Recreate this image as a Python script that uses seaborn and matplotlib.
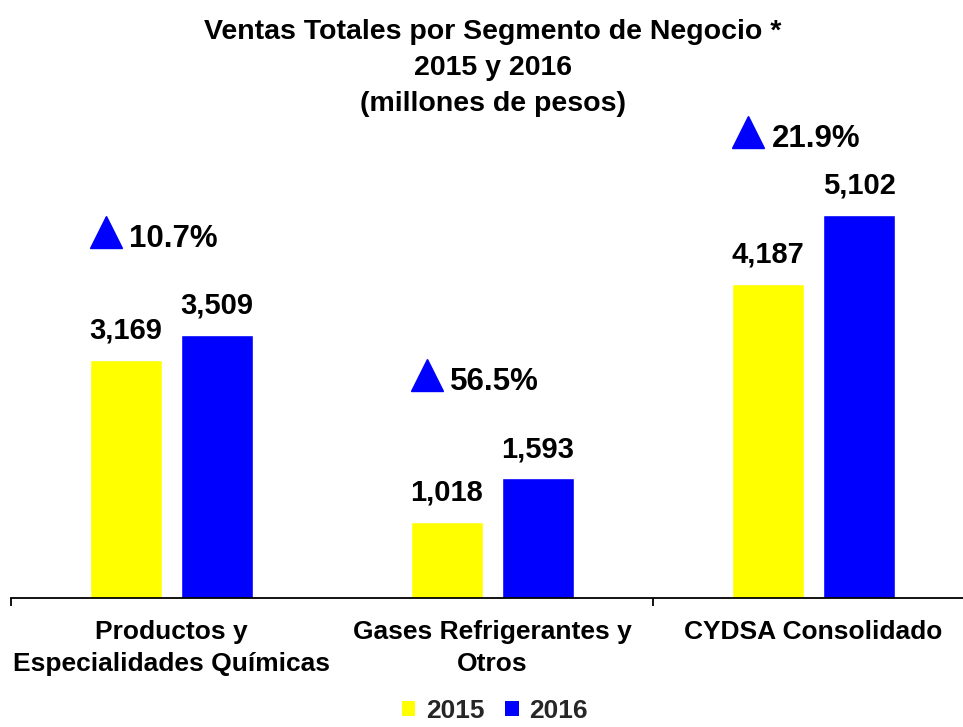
import matplotlib
matplotlib.use("Agg")
import matplotlib.pyplot as plt
from matplotlib.patches import Patch
from matplotlib.transforms import offset_copy
import seaborn as sns
import pandas as pd

# data
segments = ["Productos y\nEspecialidades Químicas", "Gases Refrigerantes y\nOtros", "CYDSA Consolidado"]
years = ["2015", "2016"]
sales_2015 = [3169, 1018, 4187]
sales_2016 = [3509, 1593, 5102]
growth_pct = ["10.7%", "56.5%", "21.9%"]

colors = {"2015": "#FFFF00", "2016": "#0000FF"}

sns.set_theme(style="white")
plt.rcParams["font.family"] = ["Liberation Sans", "DejaVu Sans"]
plt.rcParams["font.weight"] = "bold"

df = pd.DataFrame({
    "Segmento": segments * 2,
    "Año": [years[0]] * 3 + [years[1]] * 3,
    "Ventas": sales_2015 + sales_2016,
})

fig = plt.figure(figsize=(9.63, 7.27), dpi=100)
ax = fig.add_axes([11 / 963, 129 / 727, 952 / 963, 498 / 727])

sns.barplot(data=df, x="Segmento", y="Ventas", hue="Año", palette=colors,
            width=0.568, gap=0.21, ax=ax, legend=False, saturation=1, errorbar=None)

ax.set_xlim(-0.5, 2.466)
ax.set_ylim(0, 6634)

# value labels
for cont in ax.containers:
    ax.bar_label(cont, labels=[f"{v:,.0f}" for v in cont.datavalues],
                 padding=11, fontsize=21, fontweight="bold", color="black")

# growth markers above each group
for i, (v, pct) in enumerate(zip(sales_2016, growth_pct)):
    lift = 68 if i == 2 else 88
    tri = offset_copy(ax.transData, fig=fig, x=-65, y=lift + 15, units="dots")
    ax.plot([i], [v], marker="^", markersize=23, color="#0000FF", transform=tri,
            clip_on=False)
    ax.annotate(pct, xy=(i, v), xytext=(-42 * 0.72, lift * 0.72), textcoords="offset points",
                ha="left", va="baseline", fontsize=22.5, fontweight="bold", color="black")

# axes styling
sns.despine(ax=ax, left=True, right=True, top=True)
ax.spines["bottom"].set_color("black")
ax.spines["bottom"].set_linewidth(1.3)
ax.set_yticks([])
ax.set_xlabel("")
ax.set_ylabel("")
ax.set_xticks([-0.5, 1.5], minor=True)
ax.tick_params(axis="x", which="minor", bottom=True, length=6, width=1.3, color="black")
ax.tick_params(axis="x", which="major", length=0, pad=16)
for lbl in ax.get_xticklabels():
    lbl.set_fontsize(19)
    lbl.set_fontweight("bold")
    lbl.set_color("black")
    lbl.set_linespacing(1.42)

fig.text(493 / 963, 1 - 68 / 727,
         "Ventas Totales por Segmento de Negocio *\n2015 y 2016\n(millones de pesos)",
         ha="center", va="center", fontsize=20.5, fontweight="bold", color="black",
         linespacing=1.5)

handles = [Patch(facecolor=colors[y], edgecolor="none", label=y) for y in years]
fig.legend(handles=handles, loc="center", bbox_to_anchor=(495 / 963, 1 - 711 / 727),
           ncol=2, frameon=False, prop={"size": 19, "weight": "bold"},
           handlelength=0.5, handleheight=0.5, handletextpad=0.4, columnspacing=0.8)

fig.savefig("out.png", dpi=100)
plt.close(fig)
